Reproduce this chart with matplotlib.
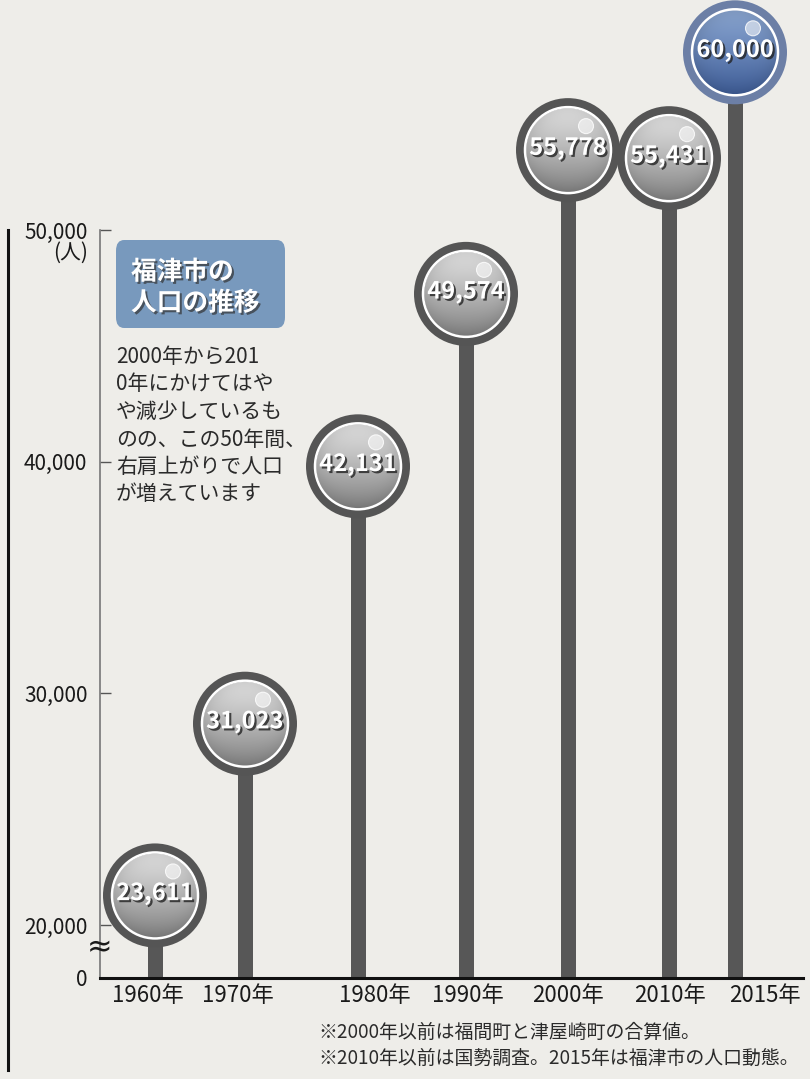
import numpy as np
import matplotlib
matplotlib.use("Agg")
import matplotlib.pyplot as plt
import matplotlib.patheffects as pe
from matplotlib.patches import Circle, FancyBboxPatch, Rectangle
from matplotlib.lines import Line2D
from matplotlib.transforms import IdentityTransform

plt.rcParams['font.family'] = ['Noto Sans CJK JP', 'DejaVu Sans']

# data
years = ['1960年', '1970年', '1980年', '1990年', '2000年', '2010年', '2015年']
population = [23611, 31023, 42131, 49574, 55778, 55431, 60000]
highlight = [False, False, False, False, False, False, True]
yticks = [20000, 30000, 40000, 50000]
notes = ['※2000年以前は福間町と津屋崎町の合算値。',
         '※2010年以前は国勢調査。2015年は福津市の人口動態。']
title_lines = ['福津市の', '人口の推移']
body_lines = ['2000年から201', '0年にかけてはや', 'や減少しているも',
              'のの、この50年間、', '右肩上がりで人口', 'が増えています']

# layout (pixels)
W, H = 810, 1079
x_pos = [155, 245, 358, 466, 568, 669, 735]
label_x = [148, 238, 375, 468, 568, 670, 765]
base_val = 17717  # where the broken axis meets zero
bg = '#eeede9'

fig = plt.figure(figsize=(W / 100, H / 100), dpi=100, facecolor=bg)


def fpos(x, y):
    return x / W, 1 - y / H


ax = fig.add_axes([100 / W, (H - 978) / H, 703 / W, 748 / H])
ax.set_facecolor('none')
ax.set_autoscale_on(False)
ax.set_xlim(100, 803)
ax.set_ylim(base_val, 50000)

for s in ['top', 'right']:
    ax.spines[s].set_visible(False)
ax.spines['left'].set_color('#777777')
ax.spines['left'].set_linewidth(1.2)
ax.spines['bottom'].set_color('#111111')
ax.spines['bottom'].set_linewidth(2.2)

ax.set_yticks([base_val] + yticks)
ax.set_yticklabels(['0'] + [f'{v:,}' for v in yticks])
ax.tick_params(axis='y', direction='in', length=8, width=1, color='#555555',
               labelsize=15, pad=9, labelcolor='#1a1a1a')
ax.set_xticks(label_x)
ax.set_xticklabels(years)
ax.tick_params(axis='x', length=0, labelsize=16, pad=4, labelcolor='#1a1a1a')

# stems
bars = ax.bar(x_pos, [v - base_val for v in population], bottom=base_val,
              width=15, color='#575757', zorder=2)

fig.canvas.draw()

R = 52       # outer radius in px
RI = 42      # inner sphere radius
ident = IdentityTransform()


def sphere_img(top, bottom, n=120):
    yy, xx = np.mgrid[-1:1:n * 1j, -1:1:n * 1j]
    t = (yy + 1) / 2
    r = np.sqrt(xx ** 2 + yy ** 2)
    top = np.array(top)
    bottom = np.array(bottom)
    col = top[None, None, :] * (1 - t[..., None]) + bottom[None, None, :] * t[..., None]
    col = col * (1 - 0.10 * np.clip(r, 0, 1)[..., None] ** 4)
    return np.clip(col, 0, 1)


for bar, xv, v, hl in zip(bars, x_pos, population, highlight):
    cx, cy = ax.transData.transform((xv, v))
    cy = cy - R - 2
    # stem ends under the bubble
    bar.set_clip_on(True)
    bar.set_clip_path(Rectangle((cx - 20, 0), 40, cy, transform=ident))
    ring_c = '#6c7fa6' if hl else '#555555'
    ax.add_patch(Circle((cx, cy), R, transform=ident, facecolor=ring_c,
                        edgecolor='none', zorder=5, clip_on=False))
    if hl:
        img = sphere_img((0.55, 0.66, 0.83), (0.25, 0.37, 0.60))
    else:
        img = sphere_img((0.90, 0.90, 0.90), (0.52, 0.52, 0.52))
    clip = Circle((cx, cy), RI, transform=ident)
    im = ax.imshow(img, extent=(cx - RI, cx + RI, cy - RI, cy + RI),
                   transform=ident, origin='upper', aspect='auto',
                   zorder=6, interpolation='bilinear')
    im.set_clip_box(fig.bbox)
    im.set_clip_path(clip)
    ax.add_patch(Circle((cx, cy), RI + 1, transform=ident, facecolor='none',
                        edgecolor='white', lw=1.8, zorder=7, clip_on=False))
    ax.add_patch(Circle((cx + 18, cy + 24), 7.5, transform=ident,
                        facecolor=(1, 1, 1, 0.55), edgecolor=(1, 1, 1, 0.8),
                        lw=0.8, zorder=8, clip_on=False))
    ax.text(cx, cy + 2, f'{v:,}', transform=ident, ha='center', va='center',
            fontsize=17, fontweight='bold', color='white', zorder=9,
            clip_on=False,
            path_effects=[pe.withSimplePatchShadow(offset=(1.5, -1.5),
                                                   shadow_rgbFace='#222222',
                                                   alpha=0.8)])

ax.set_xlim(100, 803)
ax.set_ylim(base_val, 50000)

# unit and break mark
fig.text(*fpos(88, 253), '(人)', ha='right', va='center', fontsize=15, color='#1a1a1a')
fig.text(*fpos(100, 948), '≈', ha='center', va='center', fontsize=22,
         color='#1a1a1a', family='DejaVu Sans')

# outer rule on the left
fig.add_artist(Line2D([8 / W, 8 / W], [1 - 230 / H, 1 - 1070 / H],
                      color='#111111', lw=2.2))

# title box
bx0, by0 = fpos(116, 328)
bx1, by1 = fpos(285, 240)
fig.add_artist(FancyBboxPatch((bx0, by0), bx1 - bx0, by1 - by0,
                              boxstyle='round,pad=0,rounding_size=0.01',
                              transform=fig.transFigure, facecolor='#7899bd',
                              edgecolor='none'))
for i, line in enumerate(title_lines):
    fig.text(*fpos(131, 272 + 31 * i), line, ha='left', va='center',
             fontsize=18.5, fontweight='bold', color='white',
             path_effects=[pe.withSimplePatchShadow(offset=(1.5, -1.5),
                                                    shadow_rgbFace='#333333',
                                                    alpha=0.7)])

for i, line in enumerate(body_lines):
    fig.text(*fpos(116, 357 + 27.5 * i), line, ha='left', va='center',
             fontsize=15, color='#2a2a2a')

for i, line in enumerate(notes):
    fig.text(*fpos(318, 1032 + 26 * i), line, ha='left', va='center',
             fontsize=13.6, color='#2a2a2a')

fig.savefig('out.png', dpi=100, facecolor=bg)
